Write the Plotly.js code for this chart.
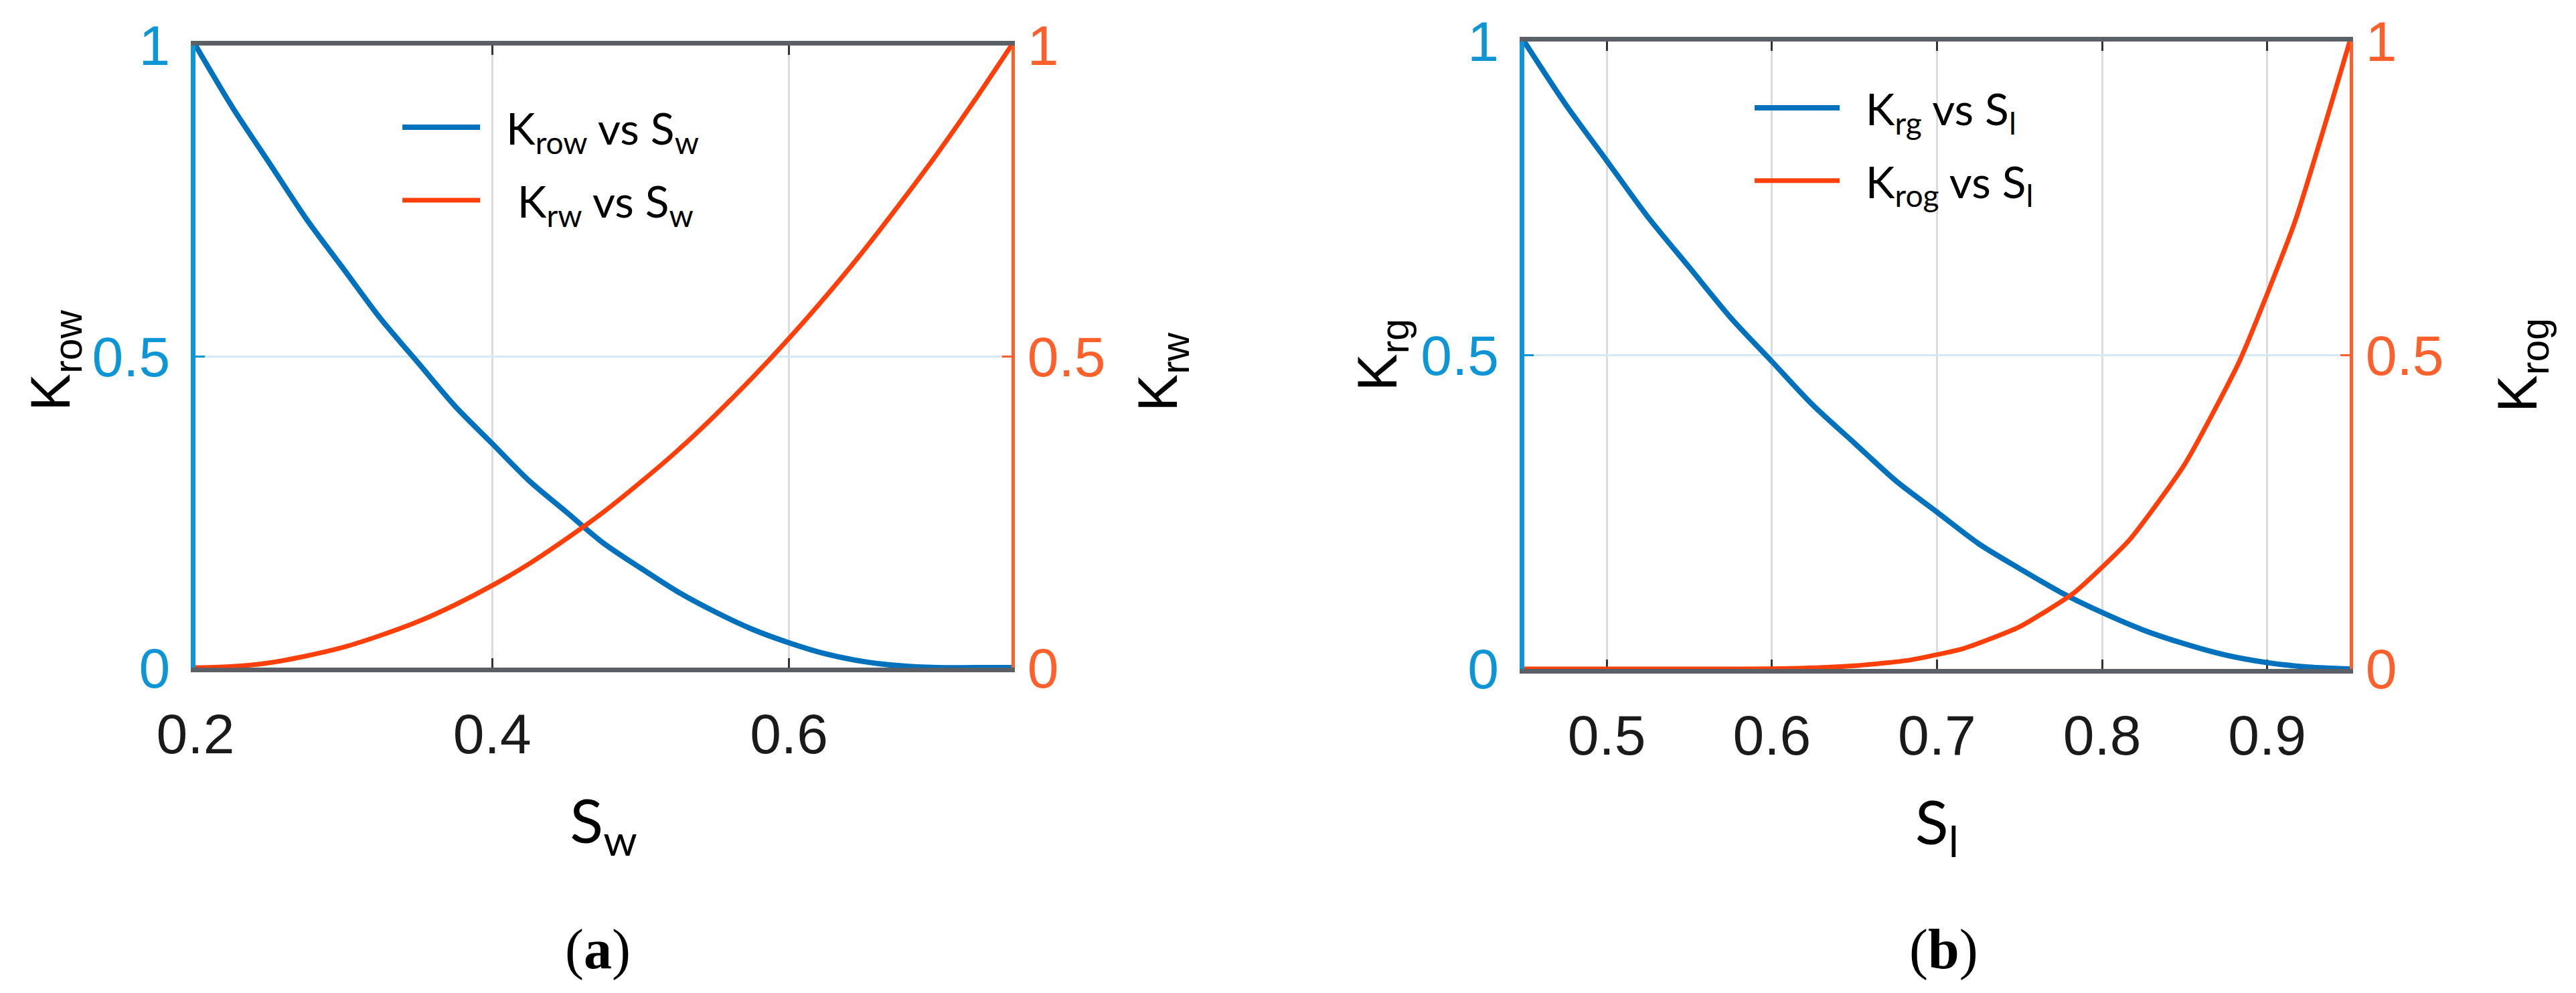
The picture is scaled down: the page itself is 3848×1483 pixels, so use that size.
<!DOCTYPE html>
<html>
<head>
<meta charset="utf-8">
<script src="https://cdn.plot.ly/plotly-3.0.1.min.js"></script>
<style>
  html, body { margin: 0; padding: 0; background: #ffffff; }
  #chart { width: 3848px; height: 1483px; }
</style>
</head>
<body>
<div id="chart"></div>
<script>
// ---------- data ----------
// Panel (a): oil / water relative permeability vs water saturation
const Sw   = [0.2, 0.225, 0.25, 0.275, 0.3, 0.325, 0.35, 0.375, 0.4, 0.425, 0.45, 0.475,
              0.5, 0.525, 0.55, 0.575, 0.6, 0.625, 0.65, 0.675, 0.7, 0.725, 0.75];
const Krow = [1.0, 0.90, 0.81, 0.72, 0.64, 0.56, 0.49, 0.42, 0.36, 0.30, 0.25, 0.20,
              0.16, 0.122, 0.09, 0.062, 0.04, 0.022, 0.01, 0.003, 0.0, 0.0, 0.0];
const Krw  = [0.0, 0.002, 0.008, 0.019, 0.033, 0.052, 0.074, 0.101, 0.132, 0.167, 0.207, 0.25,
              0.298, 0.349, 0.405, 0.465, 0.529, 0.597, 0.669, 0.746, 0.826, 0.911, 1.0];

// Panel (b): gas / oil relative permeability vs liquid saturation
const SlRg = [0.45, 0.475, 0.5, 0.525, 0.55, 0.575, 0.6, 0.625, 0.65, 0.675, 0.7,
              0.725, 0.75, 0.775, 0.8, 0.825, 0.85, 0.875, 0.9, 0.925, 0.95];
const Krg  = [1.0, 0.90, 0.81, 0.72, 0.64, 0.56, 0.49, 0.42, 0.36, 0.30, 0.25,
              0.20, 0.16, 0.122, 0.09, 0.062, 0.04, 0.022, 0.01, 0.003, 0.0];
const SlRog = [0.45, 0.4833, 0.5167, 0.55, 0.5833, 0.6167, 0.65, 0.6833, 0.7167, 0.75,
               0.7833, 0.8167, 0.85, 0.8833, 0.9167, 0.95];
const Krog  = [0.0, 0.0, 0.0, 0.0, 0.0, 0.001, 0.005, 0.014, 0.033, 0.067,
               0.122, 0.206, 0.326, 0.491, 0.712, 1.0];

// ticks
const xTicksA = [0.2, 0.4, 0.6];
const xTicksB = [0.5, 0.6, 0.7, 0.8, 0.9];
const yTicks = [0, 0.5, 1];
const yTickText = ['0', '0.5', '1'];

// text
const NB = '\u00A0';
const nameRow = NB + NB + 'K<sub>row</sub> vs S<sub>w</sub>';
const nameRw  = NB + NB + NB + 'K<sub>rw</sub> vs S<sub>w</sub>';
const nameRg  = NB + NB + 'K<sub>rg</sub> vs S<sub>l</sub>';
const nameRog = NB + NB + 'K<sub>rog</sub> vs S<sub>l</sub>';
const titleRow = 'K<sub>row</sub>';
const titleRw  = 'K<sub>rw</sub>';
const titleRg  = 'K<sub>rg</sub>';
const titleRog = 'K<sub>rog</sub>';

// ---------- styles ----------
const BLUE = '#0072BD';
const RED = '#FF3F0A';
const AXBLUE = '#0D95D6';
const AXRED = '#FF5F2A';
const FRAME = '#5A6066';
const TICKFONT = 'Liberation Sans, Arial, Helvetica, sans-serif';
const TEXTFONT = 'Lato, "Open Sans", sans-serif';

const traces = [
  {x: Sw, y: Krow, xaxis: 'x', yaxis: 'y', name: nameRow, legend: 'legend', legendgroup: 'a1',
   mode: 'lines', line: {color: BLUE, width: 8, shape: 'spline', smoothing: 0.8}, cliponaxis: false},
  {x: Sw, y: Krw, xaxis: 'x', yaxis: 'y2', name: nameRw, legend: 'legend', legendgroup: 'a2',
   mode: 'lines', line: {color: RED, width: 7, shape: 'spline', smoothing: 0.8}, cliponaxis: false},
  {x: SlRg, y: Krg, xaxis: 'x2', yaxis: 'y3', name: nameRg, legend: 'legend2', legendgroup: 'b1',
   mode: 'lines', line: {color: BLUE, width: 8, shape: 'spline', smoothing: 0.8}, cliponaxis: false},
  {x: SlRog, y: Krog, xaxis: 'x2', yaxis: 'y4', name: nameRog, legend: 'legend2', legendgroup: 'b2',
   mode: 'lines', line: {color: RED, width: 7, shape: 'spline', smoothing: 0.5}, cliponaxis: false}
];

function xAxis(domain, range, ticks, titleText, anchor) {
  return {
    domain: domain, range: range, anchor: anchor,
    tickvals: ticks, ticks: 'inside', ticklen: 14, tickwidth: 3, tickcolor: '#333333',
    showline: true, linecolor: FRAME, linewidth: 7, mirror: 'ticks',
    showgrid: true, gridcolor: '#DCDCDC', gridwidth: 3, zeroline: false,
    tickfont: {family: TICKFONT, size: 84, color: '#1a1a1a'},
    ticklabelstandoff: 20,
    layer: 'below traces',
    title: {text: titleText, font: {family: TEXTFONT, size: 92, color: '#000'}, standoff: 55}
  };
}
function yLeft(domain, anchor) {
  return {
    domain: domain, range: [0, 1], anchor: anchor, side: 'left',
    tickvals: yTicks, ticktext: yTickText, ticks: 'inside', ticklen: 14, tickwidth: 3, tickcolor: AXBLUE,
    showline: true, linecolor: AXBLUE, linewidth: 7,
    showgrid: true, gridcolor: '#D4EAF6', gridwidth: 3, zeroline: false,
    tickfont: {family: TICKFONT, size: 84, color: AXBLUE},
    ticklabelstandoff: 14,
    layer: 'below traces'
  };
}
function yRight(overlay, anchor) {
  return {
    overlaying: overlay, range: [0, 1], anchor: anchor, side: 'right',
    tickvals: yTicks, ticktext: yTickText, ticks: 'inside', ticklen: 14, tickwidth: 3, tickcolor: AXRED,
    showline: true, linecolor: AXRED, linewidth: 5,
    showgrid: false, zeroline: false,
    tickfont: {family: TICKFONT, size: 84, color: AXRED},
    ticklabelstandoff: 2,
    layer: 'below traces'
  };
}

const legendBase = {
  bgcolor: 'rgba(0,0,0,0)', borderwidth: 0, xanchor: 'left', yanchor: 'top',
  font: {family: TEXTFONT, size: 66, color: '#000'},
  traceorder: 'grouped', tracegroupgap: 20
};

function yTitle(text, x, y) {
  return {text: text, xref: 'paper', yref: 'paper', x: x, y: y, xanchor: 'center', yanchor: 'middle',
          textangle: -90, showarrow: false, font: {family: TICKFONT, size: 84, color: '#000'}};
}

const layout = {
  width: 3848, height: 1483, autosize: false,
  margin: {l: 292, r: 338, t: 62, b: 484, pad: 0},
  paper_bgcolor: '#ffffff', plot_bgcolor: '#ffffff',
  showlegend: true,
  xaxis: xAxis([0, 0.3788], [0.2, 0.75], xTicksA, 'S<sub>w</sub>', 'y'),
  yaxis: yLeft([0.002, 0.994], 'x'),
  yaxis2: yRight('y', 'x'),
  xaxis2: xAxis([0.6168, 1], [0.45, 0.95], xTicksB, 'S<sub>l</sub>', 'y3'),
  yaxis3: yLeft([0, 1], 'x2'),
  yaxis4: yRight('y3', 'x2'),
  legend: Object.assign({}, legendBase, {x: 0.0945, y: 0.916, itemwidth: 116}),
  legend2: Object.assign({}, legendBase, {x: 0.7222, y: 0.947, itemwidth: 127}),
  shapes: [
    {type: 'rect', xref: 'paper', yref: 'paper', x0: 0.1336, x1: 0.2635, y0: 0.6606, y1: 0.975,
     fillcolor: '#ffffff', line: {width: 0}, layer: 'between'},
    {type: 'rect', xref: 'paper', yref: 'paper', x0: 0.767, x1: 0.8726, y0: 0.7033, y1: 0.986,
     fillcolor: '#ffffff', line: {width: 0}, layer: 'between'}
  ],
  annotations: [
    yTitle(titleRow, -0.0656, 0.492),
    yTitle(titleRw, 0.4484, 0.474),
    yTitle(titleRg, 0.5503, 0.500),
    yTitle(titleRog, 1.0796, 0.4835),
    {text: '(<b>a</b>)', xref: 'paper', yref: 'paper', x: 0.1868, y: -0.4472,
     xanchor: 'center', yanchor: 'middle', showarrow: false,
     font: {family: 'Liberation Serif, "DejaVu Serif", serif', size: 84, color: '#000'}},
    {text: '(<b>b</b>)', xref: 'paper', yref: 'paper', x: 0.8114, y: -0.4472,
     xanchor: 'center', yanchor: 'middle', showarrow: false,
     font: {family: 'Liberation Serif, "DejaVu Serif", serif', size: 84, color: '#000'}}
  ]
};

Plotly.newPlot('chart', traces, layout, {staticPlot: true, displayModeBar: false});
</script>
</body>
</html>
